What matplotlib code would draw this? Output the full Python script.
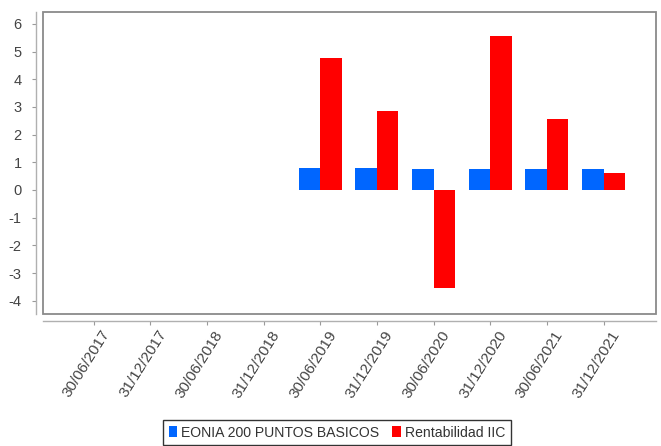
import matplotlib
matplotlib.use("Agg")
import matplotlib.pyplot as plt
import matplotlib.transforms as mtransforms
from matplotlib.patches import Patch, Rectangle
import numpy as np

plt.rcParams['font.family'] = ['Liberation Sans', 'DejaVu Sans']

fechas = ["30/06/2017", "31/12/2017", "30/06/2018", "31/12/2018", "30/06/2019",
          "31/12/2019", "30/06/2020", "31/12/2020", "30/06/2021", "31/12/2021"]
eonia = [np.nan, np.nan, np.nan, np.nan, 0.80, 0.80, 0.75, 0.75, 0.75, 0.75]
rentabilidad = [np.nan, np.nan, np.nan, np.nan, 4.78, 2.87, -3.53, 5.58, 2.55, 0.60]
yticks = [-4, -3, -2, -1, 0, 1, 2, 3, 4, 5, 6]

blue = "#0066FF"
red = "#FF0000"
grey = "#8a8a8a"
txt = "#444444"

W, H = 661, 446
fig = plt.figure(figsize=(W / 100, H / 100), dpi=100)
ax = fig.add_axes([42.7 / W, (H - 314) / H, 613 / W, 302.3 / H])

x = np.arange(len(fechas))
bw = 0.38
ax.bar(x - bw / 2, eonia, width=bw, color=blue, linewidth=0)
ax.bar(x + bw / 2, rentabilidad, width=bw, color=red, linewidth=0)

ax.set_xlim(-0.9, 9.92)
ax.set_ylim(-4.48, 6.44)
ax.set_yticks(yticks)
ax.set_yticklabels([str(v) for v in yticks])
ax.set_xticks(x)
ax.set_xticklabels(fechas)

# plot frame
ax.add_patch(Rectangle((0, 0), 1, 1, transform=ax.transAxes, fill=False,
                       edgecolor=grey, linewidth=1.3, clip_on=False, zorder=5))
for s in ["top", "right"]:
    ax.spines[s].set_visible(False)
for s in ["left", "bottom"]:
    ax.spines[s].set_position(("outward", 5))
    ax.spines[s].set_color("#b0b0b0")
    ax.spines[s].set_linewidth(1.0)

ax.tick_params(axis="both", colors="#9a9a9a", length=3, width=0.8)
ax.tick_params(axis="y", labelcolor=txt, labelsize=10.5, pad=7)
ax.tick_params(axis="x", labelcolor=txt, labelsize=11, pad=2)

offset = mtransforms.ScaledTranslation(7 / 100, 0, fig.dpi_scale_trans)
for lab in ax.get_xticklabels():
    lab.set_rotation(58)
    lab.set_ha("right")
    lab.set_va("top")
    lab.set_rotation_mode("anchor")
    lab.set_transform(lab.get_transform() + offset)

handles = [Patch(facecolor=blue, edgecolor="none"), Patch(facecolor=red, edgecolor="none")]
leg = fig.legend(handles, ["EONIA 200 PUNTOS BASICOS", "Rentabilidad IIC"],
                 loc="upper center", bbox_to_anchor=(337 / W, (H - 420) / H),
                 ncol=2, fontsize=10.1, frameon=True, fancybox=False,
                 handlelength=0.6, handleheight=0.8, handletextpad=0.3,
                 columnspacing=0.9, borderpad=0.4, borderaxespad=0)
leg.get_frame().set_edgecolor("black")
leg.get_frame().set_linewidth(1.0)
for t in leg.get_texts():
    t.set_color("#333333")

fig.savefig("out.png", dpi=100, facecolor="white")
